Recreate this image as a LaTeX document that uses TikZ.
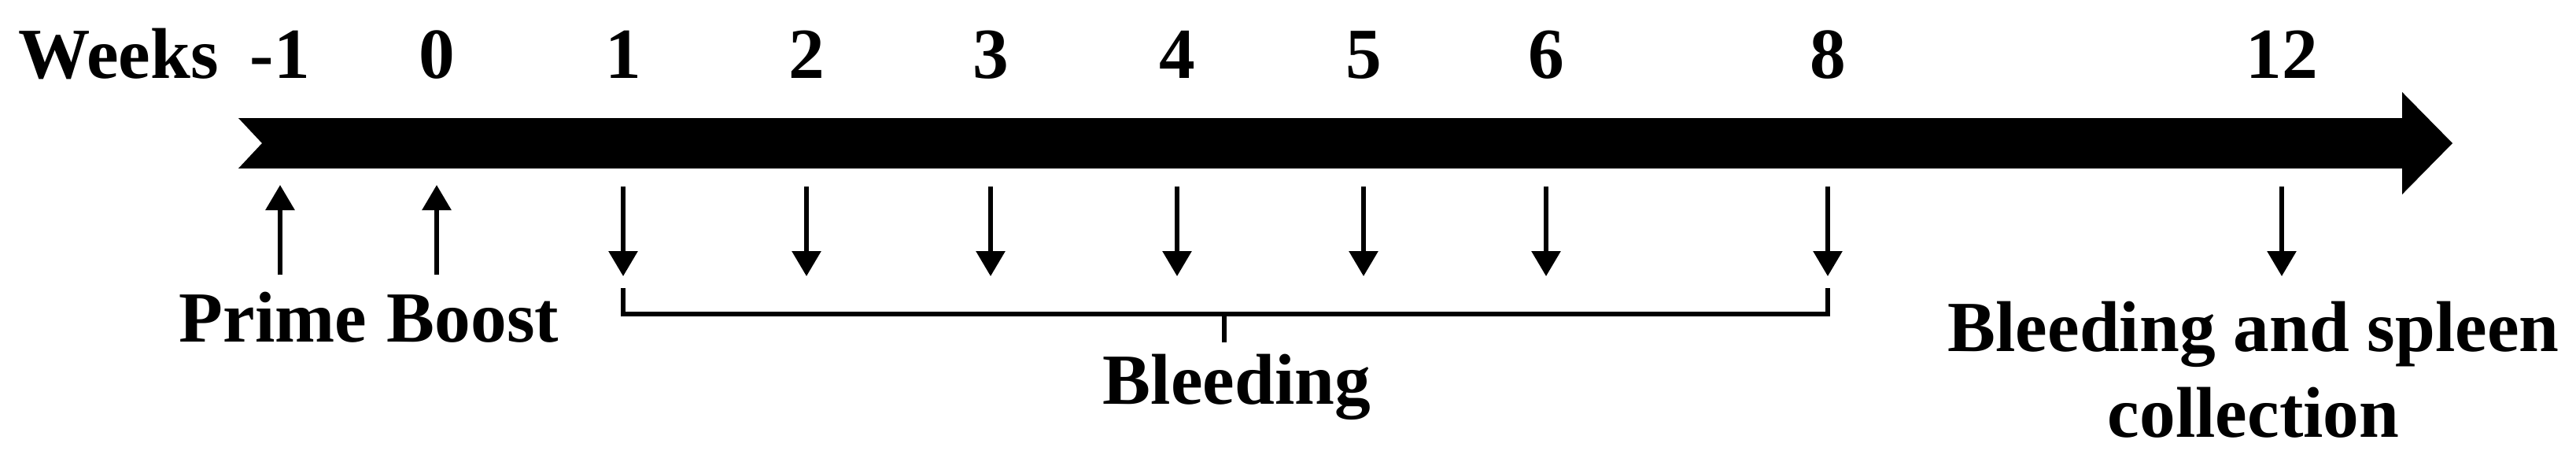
\documentclass[tikz,border=0pt]{standalone}
\usepackage{fontspec}
\setmainfont{Liberation Serif}
\usetikzlibrary{arrows.meta,positioning}

\begin{document}
\begin{tikzpicture}[font=\bfseries\fontsize{26}{31}\selectfont,>={Triangle[width=0.36cm,length=0.32cm]},line width=1.7pt,
		weekl/.style={anchor=base, inner sep=0pt},
		labell/.style={weekl, align=center},]
		\useasboundingbox (0,0) rectangle (32.74,-5.86);

		\node[weekl, anchor=base west] (weeks) at (0.21,-0.99) {Weeks};
		\node[weekl] (wm) at (3.56,-0.99) {-1};
		\node[weekl] (w0) at (5.55,-0.99) {0};
		\node[weekl] (w1) at (7.92,-0.99) {1};
		\node[weekl] (w2) at (10.25,-0.99) {2};
		\node[weekl] (w3) at (12.59,-0.99) {3};
		\node[weekl] (w4) at (14.96,-0.99) {4};
		\node[weekl] (w5) at (17.33,-0.99) {5};
		\node[weekl] (w6) at (19.65,-0.99) {6};
		\node[weekl] (w8) at (23.23,-0.99) {8};
		\node[weekl] (w12) at (29.00,-0.99) {12};

	% time line
	\fill (3.03,-1.50) -- (30.53,-1.50) -- (30.53,-1.17) -- (31.17,-1.82) -- (30.53,-2.47) -- (30.53,-2.14) -- (3.03,-2.14) -- (3.33,-1.82) -- cycle;

		\draw[->] ([yshift=-2.50cm]wm.base) -- ([yshift=-1.36cm]wm.base);
		\draw[->] ([yshift=-2.50cm]w0.base) -- ([yshift=-1.36cm]w0.base);

		\draw[->] ([yshift=-1.38cm]w1.base) -- ([yshift=-2.52cm]w1.base);
		\draw[->] ([yshift=-1.38cm]w2.base) -- ([yshift=-2.52cm]w2.base);
		\draw[->] ([yshift=-1.38cm]w3.base) -- ([yshift=-2.52cm]w3.base);
		\draw[->] ([yshift=-1.38cm]w4.base) -- ([yshift=-2.52cm]w4.base);
		\draw[->] ([yshift=-1.38cm]w5.base) -- ([yshift=-2.52cm]w5.base);
		\draw[->] ([yshift=-1.38cm]w6.base) -- ([yshift=-2.52cm]w6.base);
		\draw[->] ([yshift=-1.38cm]w8.base) -- ([yshift=-2.52cm]w8.base);
		\draw[->] ([yshift=-1.38cm]w12.base) -- ([yshift=-2.52cm]w12.base);

	\node[weekl] (prime) at (3.47,-4.34) {Prime};
	\node[weekl] (boost) at (6.01,-4.34) {Boost};

		\draw ([yshift=-2.67cm]w1.base) |- ([yshift=-3.00cm]w8.base) -- ([yshift=-2.67cm]w8.base);
		\coordinate (mid) at (15.56,-3.99);
		\draw (mid) -- ++(0,-0.36) coordinate (midb);

	\node[weekl] (bleed) at (15.72,-5.13) {Bleeding};

	\node[labell, anchor=north] (spleen) at (28.64,-3.80) {Bleeding and spleen\\collection};

		\end{tikzpicture}
\end{document}
